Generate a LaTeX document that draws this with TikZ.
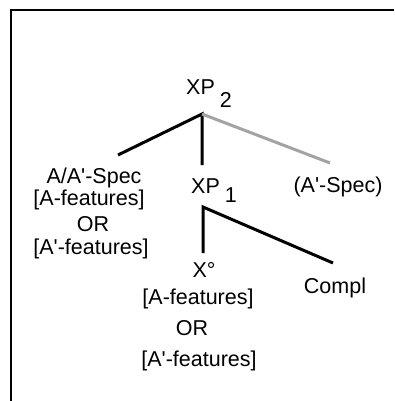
\documentclass[tikz,border=0pt]{standalone}
\usepackage{fontspec}
\setmainfont{Liberation Sans}
\usetikzlibrary{positioning}
\definecolor{BranchGray}{HTML}{A3A3A3}
\newcommand{\prm}{\textquotesingle}
\tikzset{
  label text/.style={anchor=base,inner sep=0pt,
    font=\fontsize{21.5}{23}\selectfont},
  branch/.style={black,line width=3pt},
  faint branch/.style={BranchGray,line width=3pt}
}
\begin{document}
\begin{tikzpicture}[x=1pt,y=-1pt]

        \useasboundingbox (0,0) rectangle (394,401);

        \draw[line width=2pt] (11,401) -- (11,10) -- (394,10);

        % upper projection
        \node[label text,anchor=base west] (xp2) at (186,95)
          {XP\hspace{5pt}\raisebox{-13pt}{2}};
        \coordinate (xp2top) at (202,114);
        \coordinate (specend) at (118,155);
        \coordinate (xp1end) at (202,165);
        \coordinate (aspecend) at (330,163);

        \node[label text] (spec) at (94,183) {A/A\prm-Spec};
        \node[label text] (specA) at (89,205) {[A-features]};
        \node[label text] (specor) at (93,231) {OR};
        \node[label text] (specAbar) at (91,254) {[A\prm-features]};

        \node[label text,anchor=base west] (xp1) at (191,193)
          {XP\hspace{5pt}\raisebox{-9pt}{1}};
        \node[label text] (aspec) at (338,192) {(A\prm-Spec)};

        \draw[branch] (specend) -- (xp2top) -- (xp1end);
        \draw[faint branch] (xp2top) -- (aspecend);

        % lower projection
        \coordinate (xp1top) at (203,207);
        \coordinate (headend) at (203,253);
        \coordinate (complend) at (333,263);

        \node[label text] (head) at (204,277) {X°};
        \node[label text] (headA) at (198,304) {[A-features]};
        \node[label text] (heador) at (192,335) {OR};
        \node[label text] (headAbar) at (199,366) {[A\prm-features]};
        \node[label text] (compl) at (335,293) {Compl};

        \draw[branch] (headend) -- (xp1top) -- (complend);

      \end{tikzpicture}
\end{document}
